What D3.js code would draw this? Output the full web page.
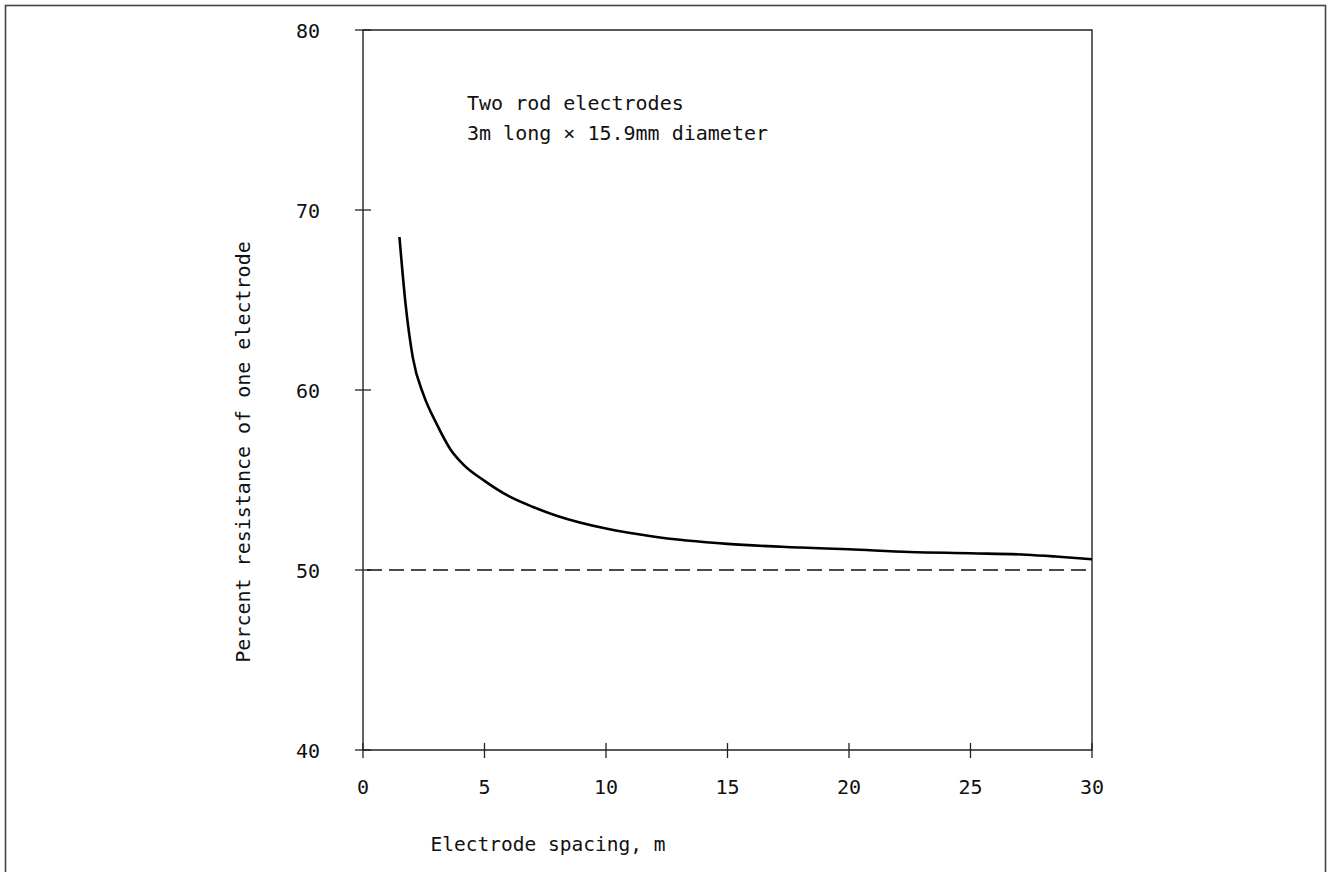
<!DOCTYPE html>
<html><head><meta charset="utf-8">
<script src="https://cdn.jsdelivr.net/npm/d3@7"></script>
<style>
html,body{margin:0;padding:0;background:#fff;}
text{font-family:"DejaVu Sans Mono",monospace;fill:#111;}
</style></head><body>
<svg id="c" width="1329" height="872"></svg>
<script>
const spacing = [1.5, 1.75, 2.05, 2.5, 3.0, 3.6, 4.1, 5.0, 6.0, 7.0, 8.0, 10, 12, 15, 18, 20, 22.5, 25, 27.3, 28.5, 30];
const resistance = [68.5, 64.8, 61.8, 59.7, 58.2, 56.7, 55.9, 54.95, 54.1, 53.5, 53.0, 52.3, 51.85, 51.45, 51.25, 51.15, 51.0, 50.93, 50.85, 50.75, 50.6];
const xTicks = [0, 5, 10, 15, 20, 25, 30];
const yTicks = [40, 50, 60, 70, 80];
const reference = 50;
const note = ["Two rod electrodes", "3m long \u00d7 15.9mm diameter"];
const xTitle = "Electrode spacing, m";
const yTitle = "Percent resistance of one electrode";

const svg = d3.select("#c");
const L = 363, R = 1092, T = 30, B = 750;
const x = d3.scaleLinear().domain([0, 30]).range([L, R]);
const y = d3.scaleLinear().domain([40, 80]).range([B, T]);

// outer frame
svg.append("rect").attr("x", 5.5).attr("y", 5.5).attr("width", 1320).attr("height", 880)
  .attr("fill", "none").attr("stroke", "#444").attr("stroke-width", 1.6);

// plot box
svg.append("path").attr("d", `M${L},${T}H${R}V${B}H${L}Z`).attr("fill", "none")
  .attr("stroke", "#222").attr("stroke-width", 1.4);

// x ticks
svg.append("g").selectAll("line").data(xTicks).join("line")
  .attr("x1", d => x(d)).attr("x2", d => x(d)).attr("y1", B - 7).attr("y2", B + 8)
  .attr("stroke", "#222").attr("stroke-width", 1.3);
svg.append("g").selectAll("text").data(xTicks).join("text")
  .attr("x", d => x(d)).attr("y", B + 44).attr("text-anchor", "middle")
  .attr("font-size", 20).text(d => d);

// y ticks
svg.append("g").selectAll("line").data(yTicks).join("line")
  .attr("x1", L - 8).attr("x2", L + 8).attr("y1", d => y(d)).attr("y2", d => y(d))
  .attr("stroke", "#222").attr("stroke-width", 1.3);
svg.append("g").selectAll("text").data(yTicks).join("text")
  .attr("x", 320).attr("y", d => y(d) + 8).attr("text-anchor", "end")
  .attr("font-size", 20).text(d => d);

// reference dashed line
svg.append("line").attr("x1", x(0) + 4).attr("x2", x(30)).attr("y1", y(reference)).attr("y2", y(reference))
  .attr("stroke", "#111").attr("stroke-width", 1.4).attr("stroke-dasharray", "15,7");

// curve
const line = d3.line().x((d, i) => x(spacing[i])).y(d => y(d)).curve(d3.curveMonotoneX);
svg.append("path").datum(resistance).attr("d", line).attr("fill", "none")
  .attr("stroke", "#000").attr("stroke-width", 2.6);

// note
svg.append("g").selectAll("text").data(note).join("text")
  .attr("x", 467).attr("y", (d, i) => 110 + i * 30).attr("font-size", 20).text(d => d);

// axis titles
svg.append("text").attr("x", 548).attr("y", 851).attr("text-anchor", "middle")
  .attr("font-size", 19.5).text(xTitle);
svg.append("text").attr("transform", `translate(250,452) rotate(-90)`).attr("text-anchor", "middle")
  .attr("font-size", 20).text(yTitle);
</script>
</body></html>
